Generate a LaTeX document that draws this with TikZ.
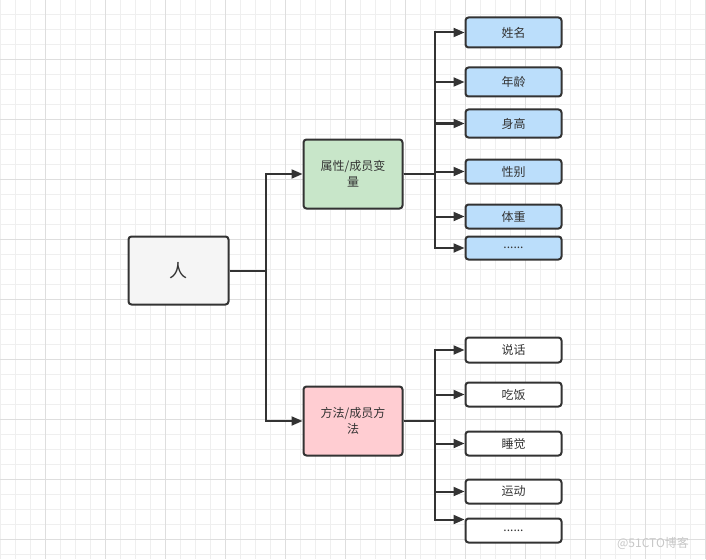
\documentclass[tikz,border=0pt]{standalone}
\usepackage{fontspec}
\setmainfont{Noto Sans CJK SC}
\usetikzlibrary{arrows.meta}
\definecolor{ink}{HTML}{333333}
\definecolor{minorline}{HTML}{EFEFEF}
\definecolor{majorline}{HTML}{DEDEDE}
\definecolor{rootfill}{HTML}{F5F5F5}
\definecolor{attrfill}{HTML}{C8E6C9}
\definecolor{methfill}{HTML}{FFCDD2}
\definecolor{leaffill}{HTML}{BBDEFB}
\tikzset{box/.style={draw=ink, line width=2pt, rounded corners=3pt, text=ink, align=center, inner sep=0pt, font=\fontsize{12}{16}\selectfont}}
\tikzset{group/.style={box, minimum width=99pt, minimum height=69pt}}
\tikzset{leaf/.style={box, minimum width=96pt}}
\tikzset{link/.style={draw=ink, line width=2pt, -{Triangle[length=11pt,width=9pt]}}}

\begin{document}
\begin{tikzpicture}[x=1pt, y=-1pt]
\useasboundingbox (0,0) rectangle (706,559);
\fill[white] (0,0) rectangle (706,559);
% grid
\foreach \gx in {0.7,15.7,...,706} \draw[minorline, line width=1pt] (\gx,0) -- (\gx,559);
\foreach \gy in {14.3,29.3,...,559} \draw[minorline, line width=1pt] (0,\gy) -- (706,\gy);
\foreach \gx in {45.7,105.7,...,706} \draw[majorline, line width=1pt] (\gx,0) -- (\gx,559);
\foreach \gy in {59.3,119.3,...,559} \draw[majorline, line width=1pt] (0,\gy) -- (706,\gy);

\node[box, fill=rootfill, minimum width=100pt, minimum height=68pt, font=\fontsize{18}{20}\selectfont] (ren) at (178.5,270.5) {人};
\node[group, fill=attrfill] (attr) at (353,174) {属性/成员变\\量};
\node[group, fill=methfill] (meth) at (353,421) {方法/成员方\\法};

\node[leaf, fill=leaffill, minimum height=30pt] (a1) at (513.5,32.5) {姓名};
\node[leaf, fill=leaffill, minimum height=29pt] (a2) at (513.5,82) {年龄};
\node[leaf, fill=leaffill, minimum height=28pt] (a3) at (513.5,123.5) {身高};
\node[leaf, fill=leaffill, minimum height=24pt] (a4) at (513.5,171.5) {性别};
\node[leaf, fill=leaffill, minimum height=24pt] (a5) at (513.5,216.5) {体重};
\node[leaf, fill=leaffill, minimum height=23pt] (a6) at (513.5,248) {......};

\node[leaf, fill=white, minimum height=25pt] (m1) at (513.5,350) {说话};
\node[leaf, fill=white, minimum height=24pt] (m2) at (513.5,394.5) {吃饭};
\node[leaf, fill=white, minimum height=24pt] (m3) at (513.5,443.5) {睡觉};
\node[leaf, fill=white, minimum height=24pt] (m4) at (513.5,491.5) {运动};
\node[leaf, fill=white, minimum height=24pt] (m5) at (513.5,530.5) {......};

\draw[link] (ren.east) -- ++(36,0) |- (attr.west);
\draw[link] (ren.east) -- ++(36,0) |- (meth.west);
\foreach \n in {a1,a2,a3,a4,a5,a6}
  \draw[link] (attr.east) -- ++(31,0) |- (\n.west);
\foreach \n in {m1,m2,m3,m4}
  \draw[link] (meth.east) -- ++(31,0) |- (\n.west);
\draw[link] (meth.east) -- ++(31,0) |- ([yshift=-2pt]m5.north west);

\node[text=black!22, font=\fontsize{12}{14}\selectfont] (mark) at (653,543) {@51CTO博客};
\end{tikzpicture}
\end{document}
